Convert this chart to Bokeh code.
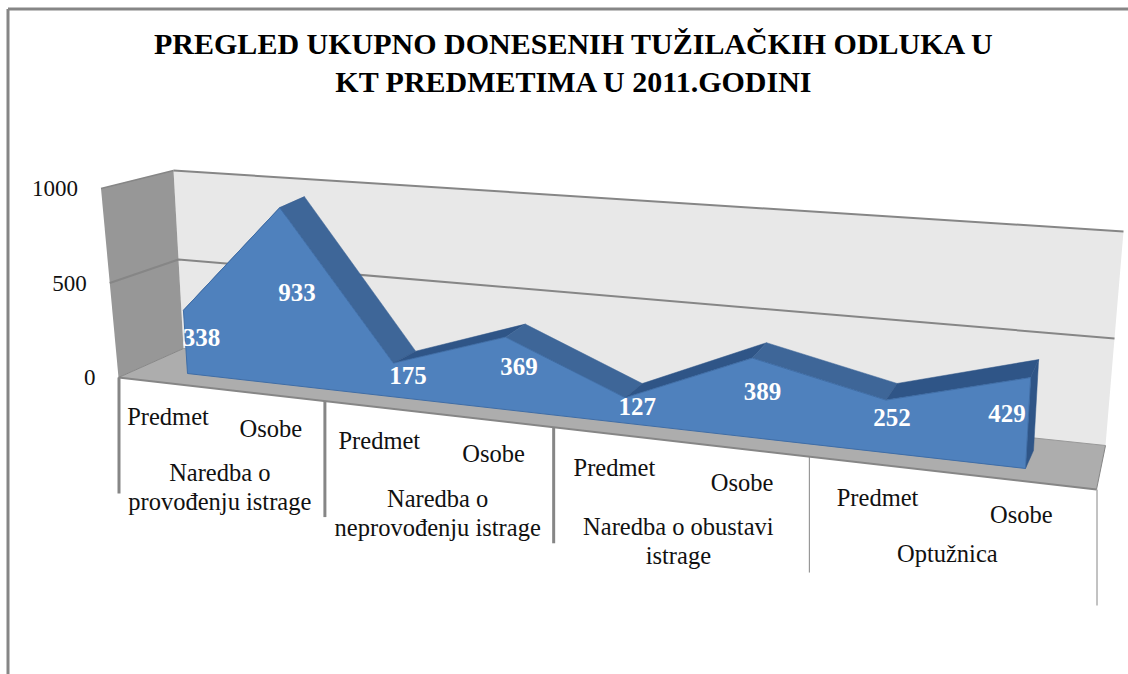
from bokeh.plotting import figure
from bokeh.embed import file_html
from bokeh.resources import INLINE
from bokeh.core.properties import value as fontval

TITLE_LINES = ["PREGLED UKUPNO DONESENIH TUŽILAČKIH ODLUKA U", "KT PREDMETIMA U 2011.GODINI"]
SUBCATS = ["Predmet", "Osobe", "Predmet", "Osobe", "Predmet", "Osobe", "Predmet", "Osobe"]
GROUPS = [["Naredba o", "provođenju istrage"], ["Naredba o", "neprovođenju istrage"],
          ["Naredba o obustavi", "istrage"], ["Optužnica"]]
VALUES = [338, 933, 175, 369, 127, 389, 252, 429]
TICKS = [0, 500, 1000]
VMAX = 1000.0

# --- projection of the 3-D chart box (layout, not data) ---
R_EDGE = 1.25
R_AREA = 1.22
def persp(u, r=R_EDGE):
    return u / (u + r * (1 - u))
def lerp(a, b, t):
    return (a[0] + (b[0] - a[0]) * t, a[1] + (b[1] - a[1]) * t)
def quad(bl, br, tl, tr, u, v):
    s = persp(u, R_AREA)
    return lerp(lerp(bl, br, s), lerp(tl, tr, s), v)

FRONT = ((187, 373), (1025, 468), (175, 186), (1037, 256))
BACK = ((214, 363), (1033, 450), (202, 176), (1045, 238))
W_LF_B, W_LF_T = (118, 377), (100.5, 188)
W_LB_B, W_LB_T = (183, 348), (173, 170)
W_RB_B, W_RB_T = (1105, 445), (1123, 231)
W_RF_B = (1096, 489)

def area_pt(t, v, plane):
    return quad(*plane, t / (len(VALUES) - 1), v / VMAX)
def edge_pt(u):
    return lerp(W_LF_B, W_RF_B, persp(u))
def xs(pts): return [q[0] for q in pts]
def ys(pts): return [q[1] for q in pts]

p = figure(width=1128, height=674, x_range=(0, 1128), y_range=(674, 0),
           output_backend="svg", toolbar_location=None, min_border=0,
           x_axis_location=None, y_axis_location=None,
           background_fill_color="white", border_fill_color="white")
p.outline_line_color = None
p.xgrid.visible = False
p.ygrid.visible = False
p.styles = {"position": "absolute", "left": "0px", "top": "0px"}

GRID = "#868686"
# chart frame
p.line([7.5, 7.5], [674, 8.5], line_color=GRID, line_width=3)
p.line([7.5, 1128], [8.5, 8.5], line_color=GRID, line_width=3)

# walls and floor
back = [W_LB_B, W_RB_B, W_RB_T, W_LB_T]
p.patch(xs(back), ys(back), fill_color="#E8E8E8", line_color=None)
left = [W_LF_B, W_LB_B, W_LB_T, W_LF_T]
p.patch(xs(left), ys(left), fill_color="#979797", line_color=None)
floor = [W_LF_B, W_LB_B, W_RB_B, W_RF_B]
p.patch(xs(floor), ys(floor), fill_color="#ADADAD", line_color=None)
p.line(xs([W_LB_T, W_RB_T]), ys([W_LB_T, W_RB_T]), line_color=GRID, line_width=2)
p.line(xs([W_LF_T, W_LB_T]), ys([W_LF_T, W_LB_T]), line_color=GRID, line_width=1.5)
p.line(xs([W_LF_B, W_LB_B]), ys([W_LF_B, W_LB_B]), line_color=GRID, line_width=1)
p.line(xs([W_LF_B, W_RF_B]), ys([W_LF_B, W_RF_B]), line_color=GRID, line_width=2)
p.line(xs([W_RF_B, W_RB_B]), ys([W_RF_B, W_RB_B]), line_color=GRID, line_width=1)
p.line(xs([W_RB_B, W_LB_B]), ys([W_RB_B, W_LB_B]), line_color="#999999", line_width=1)
for tick in TICKS[1:-1]:
    f = tick / VMAX
    a, b, c = lerp(W_LF_B, W_LF_T, f), lerp(W_LB_B, W_LB_T, f), lerp(W_RB_B, W_RB_T, f)
    p.line(xs([a, b, c]), ys([a, b, c]), line_color=GRID, line_width=2)

# depth faces of the area
n = len(VALUES)
for i in range(n - 1):
    a, b = VALUES[i], VALUES[i + 1]
    face = [area_pt(i, a, FRONT), area_pt(i + 1, b, FRONT), area_pt(i + 1, b, BACK), area_pt(i, a, BACK)]
    col = "#3E6698" if b < a else "#2F5587"
    p.patch(xs(face), ys(face), fill_color=col, line_color=col, line_width=0.5)
cap = [area_pt(n - 1, VALUES[-1], FRONT), area_pt(n - 1, VALUES[-1], BACK),
       area_pt(n - 1, 0, BACK), area_pt(n - 1, 0, FRONT)]
p.patch(xs(cap), ys(cap), fill_color="#2F5587", line_color="#2F5587", line_width=0.5)

# front face of the area
top = [area_pt(i, VALUES[i], FRONT) for i in range(n)]
front = top + [area_pt(n - 1, 0, FRONT), area_pt(0, 0, FRONT)]
p.patch(xs(front), ys(front), fill_color="#4F81BD", line_color="#3F6DA6", line_width=1)

# group separators below the floor
widths = [3, 3, 3, 1, 1]
for k, w in enumerate(widths):
    e = edge_pt(k / 4)
    p.line([e[0] + 0.5, e[0] + 0.5], [e[1], e[1] + 116], line_color=GRID, line_width=w)

FONT = fontval("Liberation Serif")
# value axis labels
for tick in TICKS:
    q = lerp(W_LF_B, W_LF_T, tick / VMAX)
    p.text([q[0] - 23], [q[1]], text=[str(tick)], text_font=FONT, text_font_size="23px",
           text_align="right", text_baseline="middle", text_color="#111111")

# sub-category labels
pts = [edge_pt((i + 0.5) / 8) for i in range(8)]
p.text(xs(pts), [y + 33.5 for y in ys(pts)], text=SUBCATS, text_font=FONT, text_font_size="24.5px",
       text_align="center", text_baseline="middle", text_color="#111111")

# group labels
GROUP_DX = [1, 2, 1, -1]
GROUP_DY = [84, 85, 85, 81]
for k, lines in enumerate(GROUPS):
    e = edge_pt((k + 0.5) / 4)
    for j, line in enumerate(lines):
        p.text([e[0] + GROUP_DX[k]], [e[1] + GROUP_DY[k] + 29 * j], text=[line], text_font=FONT,
               text_font_size="24.5px", text_align="center", text_baseline="middle", text_color="#111111")

# value labels
NUDGE = [(16, -4), (13, -4), (14, -5), (13, -7), (12, -4), (11, -6), (7, -9), (-21, -10)]
lab = [area_pt(i, VALUES[i] / 2, FRONT) for i in range(n)]
p.text([q[0] + d[0] for q, d in zip(lab, NUDGE)], [q[1] + d[1] for q, d in zip(lab, NUDGE)],
       text=[str(v) for v in VALUES], text_font=FONT, text_font_size="25px", text_font_style="bold",
       text_align="center", text_baseline="middle", text_color="white")

# title
for j, line in enumerate(TITLE_LINES):
    p.text([574], [43 + 38 * j], text=[line], text_font=FONT, text_font_size="30px", text_font_style="bold",
           text_align="center", text_baseline="middle", text_color="#000000")

open("out.html", "w").write(file_html(p, INLINE))
